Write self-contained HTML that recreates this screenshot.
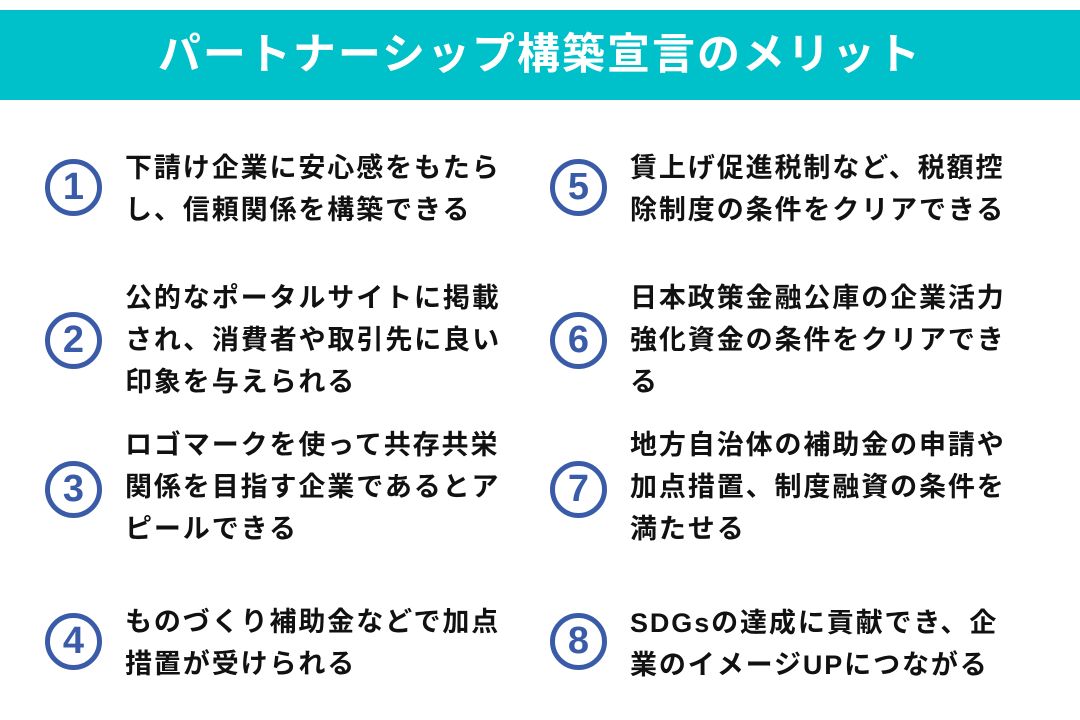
<!DOCTYPE html>
<html><head><meta charset="utf-8"><style>
body{margin:0;width:1080px;height:720px;background:#fff;position:relative;overflow:hidden;font-family:"Liberation Sans","Noto Sans CJK JP",sans-serif;}
.hd{position:absolute;left:0;top:10px;width:1080px;height:90px;background:#00c1c9;color:#fff;font-weight:bold;font-size:43px;text-align:center;line-height:90px;letter-spacing:2px;}
.c{position:absolute;width:47px;height:47px;border:5px solid #3a5ca8;border-radius:50%;color:#3a5ca8;font-weight:bold;font-size:38px;line-height:47px;text-align:center;font-family:"Liberation Sans",sans-serif;}
.t{position:absolute;font-weight:bold;font-size:27px;line-height:42px;letter-spacing:1.9px;color:#111;white-space:nowrap;}
</style></head><body>
<div class="hd">パートナーシップ構築宣言のメリット</div>
<div class="c" style="left:45px;top:159px">1</div>
<div class="c" style="left:45px;top:312px">2</div>
<div class="c" style="left:45px;top:461px">3</div>
<div class="c" style="left:45px;top:613px">4</div>
<div class="c" style="left:550px;top:159px">5</div>
<div class="c" style="left:550px;top:312px">6</div>
<div class="c" style="left:550px;top:461px">7</div>
<div class="c" style="left:550px;top:613px">8</div>
<div class="t" style="left:125px;top:147px">下請け企業に安心感をもたら<br>し、信頼関係を構築できる</div>
<div class="t" style="left:125px;top:277px">公的なポータルサイトに掲載<br>され、消費者や取引先に良い<br>印象を与えられる</div>
<div class="t" style="left:125px;top:424px">ロゴマークを使って共存共栄<br>関係を目指す企業であるとア<br>ピールできる</div>
<div class="t" style="left:125px;top:601px">ものづくり補助金などで加点<br>措置が受けられる</div>
<div class="t" style="left:630px;top:147px">賃上げ促進税制など、税額控<br>除制度の条件をクリアできる</div>
<div class="t" style="left:630px;top:277px">日本政策金融公庫の企業活力<br>強化資金の条件をクリアでき<br>る</div>
<div class="t" style="left:630px;top:424px">地方自治体の補助金の申請や<br>加点措置、制度融資の条件を<br>満たせる</div>
<div class="t" style="left:630px;top:602px">SDGsの達成に貢献でき、企<br>業のイメージUPにつながる</div>
</body></html>
